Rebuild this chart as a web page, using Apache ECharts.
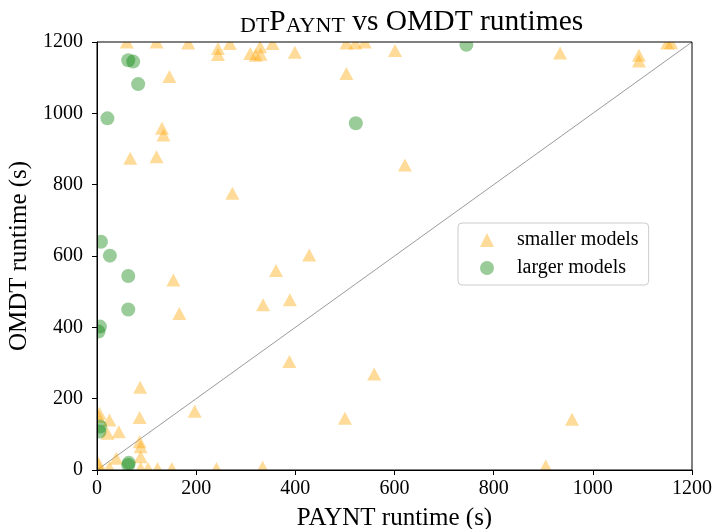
<!DOCTYPE html>
<html>
<head>
<meta charset="utf-8">
<script src="https://cdn.jsdelivr.net/npm/echarts@6/dist/echarts.min.js"></script>
<style>html,body{margin:0;padding:0;background:#fff}#c{width:717px;height:529px}</style>
</head>
<body>
<div id="c"></div>
<script>
// smaller models: [PAYNT runtime, OMDT runtime]
const smallerModels = [
  [60,1200],[120,1200],[184,1197],[244,1182],[244,1165],[268,1196],[309,1168],[320,1163],[329,1187],[330,1166],
  [354,1196],[399,1171],[503,1197],[521,1197],[540,1200],[601,1176],[934,1169],[1093,1163],[1093,1147],[1150,1197],[1158,1198],
  [146,1103],[503,1112],[131,958],[134,939],[67,874],[120,878],[273,776],[621,855],
  [154,533],[361,559],[428,603],[335,463],[389,477],[166,439],[388,304],[559,269],[87,232],[197,165],[500,145],[86,147],[958,142],
  [5,159],[3,150],[25,140],[44,107],[21,103],[86,79],[88,65],[88,37],[39,33],[2,14],[3,19],[25,7],
  [88,5],[103,4],[122,4],[151,4],[241,4],[334,8],[905,11]
];
// larger models
const largerModels = [
  [745,1192],[63,1149],[73,1145],[83,1082],[21,986],[522,972],[8,640],[26,601],[63,544],[63,450],
  [6,402],[3,388],[6,122],[5,108],[63,14],[64,20]
];
const diagonal = [[0,0],[1200,1200]];
const axisTicks = [0,200,400,600,800,1000,1200];
const seriesNames = ['smaller models','larger models'];

const FONT = '"Liberation Serif", "DejaVu Serif", serif';
const chart = echarts.init(document.getElementById('c'), null, {renderer:'canvas'});
const G = {l:97, t:42, r:692, b:470};
const white = {fill:'#fff'};
chart.setOption({
  animation:false,
  backgroundColor:'#fff',
  title:{
    text:'{sc|DT}{big|P}{sc|AYNT}{big| vs OMDT runtimes}',
    left:235, top:3, z:10,
    textStyle:{fontWeight:'normal',rich:{
      sc:{fontFamily:FONT,fontSize:22,fontWeight:'normal',color:'#000',verticalAlign:'bottom',lineHeight:29},
      big:{fontFamily:FONT,fontSize:29.5,fontWeight:'normal',color:'#000',verticalAlign:'bottom',lineHeight:29}
    }}
  },
  grid:{left:G.l, top:G.t, right:717-G.r, bottom:529-G.b, show:false, outerBoundsMode:'none', containLabel:false},
  xAxis:{
    type:'value', min:0, max:1200, interval:200, z:10,
    name:'PAYNT runtime (s)', nameLocation:'middle', nameGap:36,
    nameTextStyle:{fontFamily:FONT,fontSize:25,color:'#000'},
    axisLine:{show:true,lineStyle:{color:'#000',width:1}},
    axisTick:{show:true,length:5,lineStyle:{color:'#000'}},
    axisLabel:{fontFamily:FONT,fontSize:20,color:'#000',margin:9,
      formatter:v=>axisTicks.includes(v)?String(v):''},
    splitLine:{show:false}
  },
  yAxis:{
    type:'value', min:0, max:1200, interval:200, z:10,
    name:'OMDT runtime (s)', nameLocation:'middle', nameGap:56,
    nameTextStyle:{fontFamily:FONT,fontSize:25,color:'#000'},
    axisLine:{show:true,lineStyle:{color:'#000',width:1}},
    axisTick:{show:true,length:5,lineStyle:{color:'#000'}},
    axisLabel:{fontFamily:FONT,fontSize:20,color:'#000',margin:14,
      formatter:v=>axisTicks.includes(v)?String(v):''},
    splitLine:{show:false}
  },
  legend:{
    orient:'vertical', left:458, top:223, z:12,
    data:[{name:seriesNames[0],icon:'triangle'},{name:seriesNames[1],icon:'circle'}],
    itemWidth:14, itemHeight:14, itemGap:8,
    padding:[7,10,7,22],
    backgroundColor:'rgba(255,255,255,0.85)', borderColor:'#cccccc', borderWidth:1, borderRadius:4,
    textStyle:{fontFamily:FONT,fontSize:20,color:'#000',padding:[0,0,0,18],lineHeight:19}
  },
  graphic:{elements:[
    {type:'rect', z:5, shape:{x:0,y:0,width:717,height:G.t}, style:white, silent:true},
    {type:'rect', z:5, shape:{x:0,y:0,width:G.l,height:529}, style:white, silent:true},
    {type:'rect', z:5, shape:{x:0,y:G.b,width:717,height:529-G.b}, style:white, silent:true},
    {type:'rect', z:5, shape:{x:G.r,y:0,width:717-G.r,height:529}, style:white, silent:true},
    {type:'rect', z:11, shape:{x:G.l,y:G.t,width:G.r-G.l,height:G.b-G.t}, style:{fill:'none',stroke:'#000',lineWidth:1}, silent:true}
  ]},
  series:[
    {type:'line', data:diagonal, symbol:'none', z:1, silent:true,
      lineStyle:{color:'#808080',width:0.8}, legendHoverLink:false},
    {name:seriesNames[0], type:'scatter', data:smallerModels, symbol:'triangle', symbolSize:[14,13], z:2,
      itemStyle:{color:'rgba(255,165,0,0.5)'}},
    {name:seriesNames[1], type:'scatter', data:largerModels, symbol:'circle', symbolSize:14, z:3,
      itemStyle:{color:'rgba(0,128,0,0.5)'}}
  ]
});
</script>
</body>
</html>
